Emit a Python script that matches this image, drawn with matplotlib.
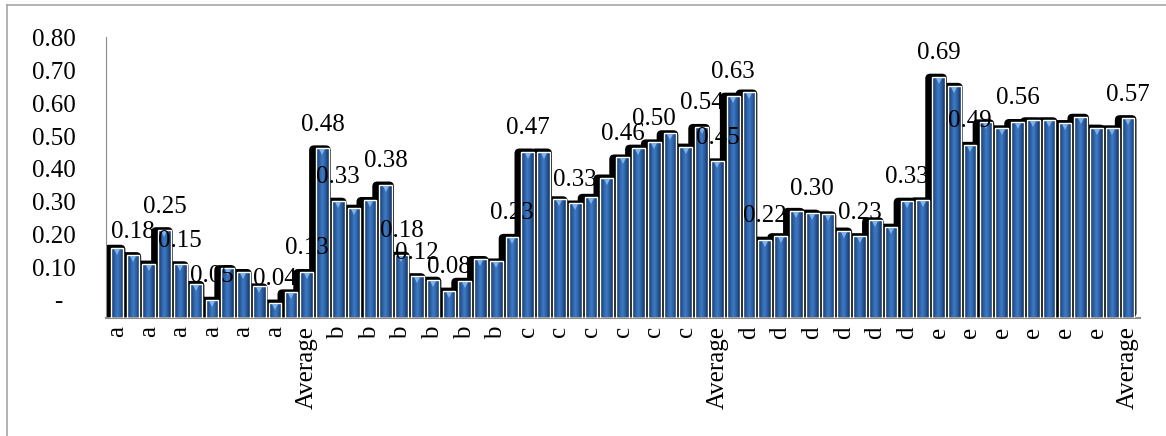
import matplotlib
matplotlib.use("Agg")
import matplotlib.pyplot as plt
import numpy as np
from matplotlib.patches import Rectangle, FancyBboxPatch
from matplotlib.colors import LinearSegmentedColormap
import matplotlib.transforms as mtransforms

plt.rcParams["font.family"] = ["Liberation Serif", "DejaVu Serif"]

# ---- data ----
cat_a = ["a"] * 12
cat_b = ["b"] * 13
cat_c = ["c"] * 12
cat_d = ["d"] * 13
cat_e = ["e"] * 12
categories = cat_a + ["Average"] + cat_b + cat_c + ["Average"] + cat_d + cat_e + ["Average"]

vals_a = [0.200, 0.179, 0.155, 0.250, 0.153, 0.097, 0.052, 0.142, 0.131, 0.090, 0.044, 0.073]
avg_a = [0.131]
vals_b = [0.483, 0.334, 0.314, 0.336, 0.380, 0.180, 0.119, 0.109, 0.078, 0.106, 0.168, 0.161, 0.231]
vals_c = [0.474, 0.474, 0.338, 0.326, 0.345, 0.400, 0.457, 0.485, 0.500, 0.526, 0.488, 0.544]
avg_c = [0.446]
vals_d = [0.633, 0.642, 0.223, 0.233, 0.305, 0.300, 0.295, 0.249, 0.233, 0.278, 0.260, 0.334, 0.335]
vals_e = [0.687, 0.661, 0.493, 0.557, 0.540, 0.558, 0.563, 0.563, 0.555, 0.573, 0.542, 0.540]
avg_e = [0.569]
values = vals_a + avg_a + vals_b + vals_c + avg_c + vals_d + vals_e + avg_e

labeled_idx = [1, 3, 4, 6, 10, 12, 13, 14, 17, 18, 19, 21, 25, 26, 29, 32, 34, 37,
               38, 39, 41, 44, 47, 50, 52, 54, 57, 64]

y_ticks = [0.0, 0.1, 0.2, 0.3, 0.4, 0.5, 0.6, 0.7, 0.8]
y_ticklabels = ["-  ", "0.10", "0.20", "0.30", "0.40", "0.50", "0.60", "0.70", "0.80"]

# ---- figure ----
W, H = 1166, 436
fig = plt.figure(figsize=(W / 100, H / 100), dpi=100)
fs = 18

ax = fig.add_axes([106 / W, 118 / H, (1140 - 106) / W, (399 - 118) / H])
n = len(values)
x = np.arange(n)
ax.set_xlim(-0.7, n - 1 + 0.75)
ax.set_ylim(0, 0.8)

# pixel -> data helpers
px_x = (n - 1 + 0.75 + 0.7) / (1140 - 106)
px_y = 0.8 / (399 - 118)

bw = 0.80
cmap = LinearSegmentedColormap.from_list(
    "bar", ["#12325f", "#2a5c9e", "#3f7cc6", "#2a5c9e", "#12325f"])
grad = np.linspace(0, 1, 64).reshape(1, -1)

# shadows
for i, v in enumerate(values):
    l = i - bw / 2 - 7 * px_x
    r = i + bw / 2 + 2 * px_x
    sh = FancyBboxPatch((l, 0), r - l, v + 3 * px_y,
                        boxstyle="round,pad=0,rounding_size=%f" % (5 * px_x),
                        mutation_aspect=px_y / px_x,
                        facecolor="black", edgecolor="none", zorder=1)
    ax.add_patch(sh)

# bars
for i, v in enumerate(values):
    rect = Rectangle((i - bw / 2, 0), bw, v, facecolor="none", edgecolor="white",
                     linewidth=1.0, zorder=3)
    ax.add_patch(rect)
    im = ax.imshow(grad, cmap=cmap, aspect="auto",
                   extent=(i - bw / 2, i + bw / 2, 0, v), zorder=2,
                   interpolation="bilinear")
    clip = Rectangle((i - bw / 2, 0), bw, v, transform=ax.transData)
    im.set_clip_path(clip)

# light top caps
cap_off = mtransforms.offset_copy(ax.transData, fig=fig, x=0, y=-4, units="dots")
ax.plot(x, values, linestyle="none", marker="v", markersize=5,
        color="#7fb3ea", markeredgewidth=0, transform=cap_off, zorder=4)

ax.set_xlim(-0.7, n - 1 + 0.75)
ax.set_ylim(0, 0.8)

# data labels
for i in labeled_idx:
    ax.annotate("%.2f" % values[i], (i, values[i]), xytext=(0, 17),
                textcoords="offset points", ha="center", va="center",
                fontsize=fs, color="black", zorder=6)

# axes styling
for s in ["top", "right"]:
    ax.spines[s].set_visible(False)
ax.spines["left"].set_color("#8c8c8c")
ax.spines["bottom"].set_color("#8c8c8c")
ax.spines["bottom"].set_linewidth(1.5)
ax.set_yticks([])
ax.set_xticks(x[::2])
ax.set_xticklabels(categories[::2], rotation=90, fontsize=fs)
ax.tick_params(axis="x", length=0, pad=6)

# back-wall value labels
ax2 = fig.add_axes(ax.get_position(), frameon=False)
ax2.set_xlim(ax.get_xlim())
ax2.set_ylim(-0.055, 0.803)
ax2.set_xticks([])
ax2.set_yticks(y_ticks)
ax2.set_yticklabels(y_ticklabels, fontsize=fs)
ax2.tick_params(axis="y", length=0, pad=22)
ax2.patch.set_visible(False)

# outer frame lines
fig.add_artist(plt.Line2D([7 / W, 7 / W], [0, 1 - 5 / H], color="#a6a6a6", lw=1.2))
fig.add_artist(plt.Line2D([7 / W, 1], [1 - 5 / H, 1 - 5 / H], color="#a6a6a6", lw=1.2))

fig.savefig("out.png", dpi=100)
